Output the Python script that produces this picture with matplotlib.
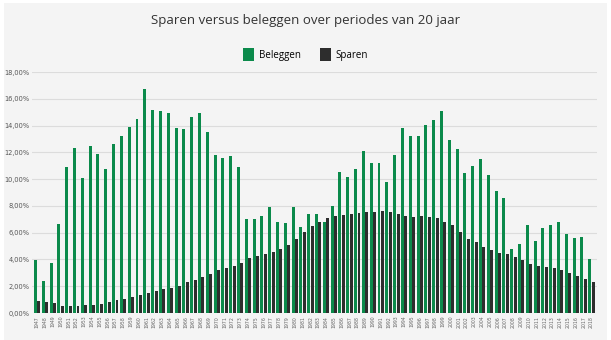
import matplotlib
matplotlib.use("Agg")
import matplotlib.pyplot as plt
from matplotlib.patches import Patch, Rectangle
from matplotlib.ticker import FuncFormatter, MultipleLocator
import numpy as np

years = list(range(1947, 2019))

beleggen = [3.96, 2.42, 3.72, 6.66, 10.94, 12.36, 10.05, 12.49, 11.89, 10.77,
            12.59, 13.19, 13.89, 14.53, 16.73, 15.16, 15.06, 14.93, 13.84, 13.74,
            14.68, 14.93, 13.49, 11.79, 11.57, 11.74, 10.90, 7.00, 7.00, 7.28,
            7.90, 6.80, 6.73, 7.95, 6.41, 7.40, 7.40, 6.83, 8.03, 10.50,
            10.17, 10.74, 12.10, 11.24, 11.24, 9.82, 11.84, 13.80, 13.24, 13.24,
            14.04, 14.41, 15.08, 12.96, 12.22, 10.45, 10.97, 11.47, 10.32, 9.15,
            8.58, 4.76, 5.14, 6.56, 5.36, 6.36, 6.60, 6.83, 5.90, 5.63,
            5.68, 4.01]

sparen = [0.92, 0.82, 0.72, 0.52, 0.52, 0.55, 0.60, 0.62, 0.70, 0.80,
          0.97, 1.05, 1.20, 1.37, 1.47, 1.65, 1.77, 1.90, 2.04, 2.30,
          2.47, 2.67, 2.94, 3.22, 3.37, 3.49, 3.76, 4.09, 4.29, 4.39,
          4.54, 4.76, 5.09, 5.51, 6.08, 6.51, 6.80, 7.08, 7.28, 7.33,
          7.40, 7.45, 7.53, 7.58, 7.63, 7.58, 7.43, 7.25, 7.20, 7.23,
          7.20, 7.08, 6.83, 6.58, 6.03, 5.53, 5.31, 4.96, 4.69, 4.51,
          4.39, 4.19, 3.94, 3.64, 3.49, 3.42, 3.34, 3.22, 2.99, 2.77,
          2.52, 2.30]

GREEN = "#0b8a4b"
DARK = "#2d2d2d"
BG = "#f4f4f4"

fig = plt.figure(figsize=(6.11, 3.40), dpi=100)
fig.patch.set_facecolor("white")
fig.patches.append(Rectangle((0.007, 0.0), 0.986, 0.99, transform=fig.transFigure,
                             facecolor=BG, edgecolor="none", zorder=-10))

ax = fig.add_axes([0.052, 0.0794, 0.925, 0.7086])
ax.set_facecolor("none")

x = np.arange(len(years))
w = 0.38
ax.bar(x - 0.22, beleggen, width=w, color=GREEN, zorder=3, linewidth=0)
ax.bar(x + 0.22, sparen, width=w, color=DARK, zorder=4, linewidth=0)

ax.set_ylim(0, 18)
ax.set_xlim(-0.7, len(years) - 0.3)
ax.yaxis.set_major_locator(MultipleLocator(2))
ax.yaxis.set_major_formatter(FuncFormatter(lambda v, p: f"{v:.2f}".replace(".", ",") + "%"))
ax.grid(axis="y", color="#dcdcdc", linewidth=0.8, zorder=0)
ax.set_axisbelow(True)
for s in ax.spines.values():
    s.set_visible(False)
ax.tick_params(axis="y", length=0, labelsize=4.8, labelcolor="#555555", pad=1.5)
ax.set_xticks(x)
ax.set_xticklabels([str(y) for y in years], rotation=90, fontsize=3.3, color="#666666")
ax.tick_params(axis="x", length=0, pad=2)

fig.text(0.5, 0.94, "Sparen versus beleggen over periodes van 20 jaar",
         ha="center", va="center", fontsize=9.5, color="#333333", family="Open Sans")

handles = [Patch(facecolor=GREEN, label="Beleggen"), Patch(facecolor=DARK, label="Sparen")]
fig.legend(handles=handles, loc="center", bbox_to_anchor=(0.5, 0.84), ncol=2,
           frameon=False, handlelength=1.1, handleheight=1.6,
           columnspacing=2.0, handletextpad=0.5, prop={"family": "Open Sans", "size": 7})

fig.savefig("out.png", dpi=100, facecolor=fig.get_facecolor())
